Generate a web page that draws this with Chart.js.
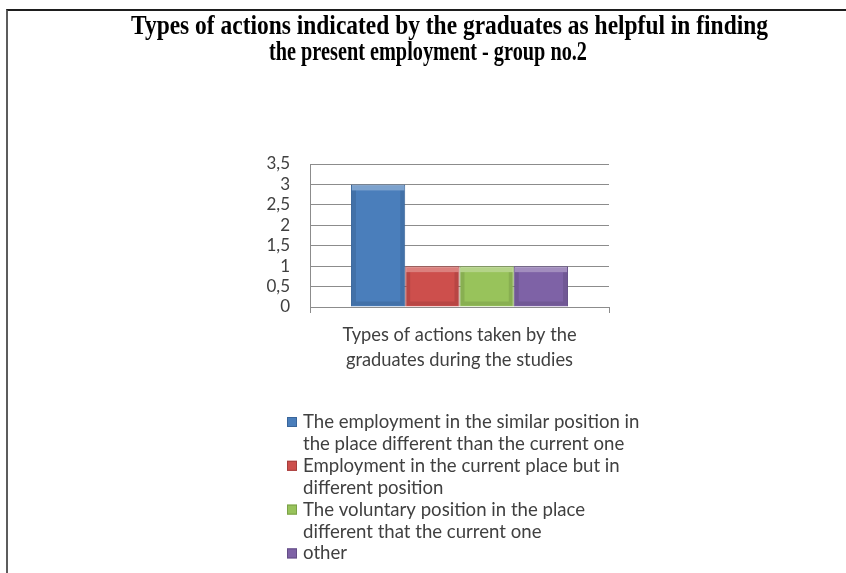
<!DOCTYPE html>
<html lang="en">

<head>
    <meta charset="UTF-8">
    <title>Types of actions - group no.2</title>
    <script src="https://cdn.jsdelivr.net/npm/chart.js"></script>
    <style>
        body {
            margin: 0;
            background: #fff;
        }

        #frame {
            position: absolute;
            left: 6px;
            top: 9px;
            right: 0;
            bottom: 0;
            border-top: 2px solid #1e1e1e;
            border-left: 2px solid #5c5c5c;
        }

        #wrap {
            position: absolute;
            left: 0;
            top: 0;
            width: 846px;
            height: 573px;
        }
    </style>
</head>

<body>
    <div id="frame"></div>
    <div id="wrap"><canvas id="chart" width="846" height="573"></canvas></div>
    <script>
        const titleLines = ['Types of actions indicated by the graduates as helpful in finding',
            'the present employment - group no.2'];
        const categories = [['Types of actions taken by the', 'graduates during the studies']];
        const seriesLabels = [
            ['The employment in the similar position in', 'the place different than the current one'],
            ['Employment in the current place but in', 'different position'],
            ['The voluntary position in the place', 'different that the current one'],
            ['other']
        ];
        const seriesValues = [[3], [1], [1], [1]];
        const seriesColors = ['#4a7ebb', '#cd4f4c', '#98c35b', '#7e62a6'];
        const seriesBorders = ['#3a659a', '#a53e3c', '#7aa048', '#644e86'];

        const textColor = '#404040';

        // title drawn narrow like the original condensed serif
        const titlePlugin = {
            id: 'narrowTitle',
            afterDraw(chart) {
                const ctx = chart.ctx;
                ctx.save();
                ctx.font = 'bold 28px "Liberation Serif"';
                ctx.fillStyle = '#000';
                ctx.textAlign = 'center';
                ctx.textBaseline = 'alphabetic';
                const widths = [637, 318];
                const centers = [449.5, 428];
                const baselines = [34, 60];
                titleLines.forEach((line, i) => {
                    const sx = widths[i] / ctx.measureText(line).width;
                    ctx.save();
                    ctx.translate(centers[i], baselines[i]);
                    ctx.scale(sx, 1);
                    ctx.fillText(line, 0, 0);
                    ctx.restore();
                });
                ctx.restore();
            }
        };

        // soft bevel over each bar (top highlight, darker sides)
        const bevelPlugin = {
            id: 'bevel',
            afterDatasetsDraw(chart) {
                const ctx = chart.ctx;
                ctx.save();
                chart.data.datasets.forEach((ds, i) => {
                    chart.getDatasetMeta(i).data.forEach(bar => {
                        const l = bar.x - bar.width / 2, r = bar.x + bar.width / 2;
                        const t = bar.y, b = bar.base;
                        ctx.fillStyle = 'rgba(255,255,255,0.28)';
                        ctx.fillRect(l + 1, t + 1, r - l - 2, 5);
                        ctx.fillStyle = 'rgba(0,0,0,0.10)';
                        ctx.fillRect(l + 1, t + 6, 4, b - t - 7);
                        ctx.fillRect(r - 5, t + 6, 4, b - t - 7);
                        ctx.fillRect(l + 5, b - 5, r - l - 10, 4);
                    });
                });
                ctx.restore();
            }
        };

        // legend with wrapped labels, stacked under the axis
        const legendPlugin = {
            id: 'wrapLegend',
            afterDraw(chart) {
                const ctx = chart.ctx;
                ctx.save();
                ctx.font = '18.6px Lato';
                ctx.textBaseline = 'middle';
                ctx.textAlign = 'left';
                let y = 422;
                const step = 21.9;
                chart.data.datasets.forEach((ds, i) => {
                    ctx.fillStyle = ds.backgroundColor;
                    ctx.fillRect(287, y - 5, 10, 10);
                    ctx.strokeStyle = ds.borderColor;
                    ctx.lineWidth = 1;
                    ctx.strokeRect(287.5, y - 4.5, 9, 9);
                    ctx.fillStyle = textColor;
                    seriesLabels[i].forEach(line => {
                        ctx.fillText(line, 303, y);
                        y += step;
                    });
                });
                ctx.restore();
            }
        };

        const chart = new Chart(document.getElementById('chart'), {
            type: 'bar',
            data: {
                labels: categories,
                datasets: seriesLabels.map((lbl, i) => ({
                    label: lbl.join(' '),
                    data: seriesValues[i],
                    backgroundColor: seriesColors[i],
                    borderColor: seriesBorders[i],
                    borderWidth: 1,
                    categoryPercentage: 0.726,
                    barPercentage: 1
                }))
            },
            options: {
                responsive: false,
                animation: false,
                layout: {
                    padding: { left: 250, right: 237, top: 164, bottom: 196 }
                },
                plugins: {
                    legend: { display: false },
                    title: { display: false },
                    tooltip: { enabled: false }
                },
                scales: {
                    x: {
                        offset: true,
                        grid: {
                            display: true,
                            drawOnChartArea: false,
                            offset: true,
                            tickLength: 6,
                            color: '#8c8c8c'
                        },
                        border: { display: true, color: '#8c8c8c' },
                        ticks: {
                            color: textColor,
                            padding: 10,
                            font: { family: 'Lato', size: 18.3, lineHeight: 1.35 }
                        },
                        afterFit(scale) { scale.width = scale.width; scale.height = 70; }
                    },
                    y: {
                        min: 0,
                        max: 3.5,
                        grid: {
                            drawTicks: false,
                            color: '#8c8c8c'
                        },
                        border: { display: true, color: '#8c8c8c' },
                        ticks: {
                            stepSize: 0.5,
                            autoSkip: false,
                            color: textColor,
                            padding: 20,
                            font: { family: 'Lato', size: 17, lineHeight: 1 },
                            callback: v => String(v).replace('.', ',')
                        },
                        afterFit(scale) { scale.width = 60; }
                    }
                }
            },
            plugins: [titlePlugin, bevelPlugin, legendPlugin]
        });
    </script>
</body>

</html>
